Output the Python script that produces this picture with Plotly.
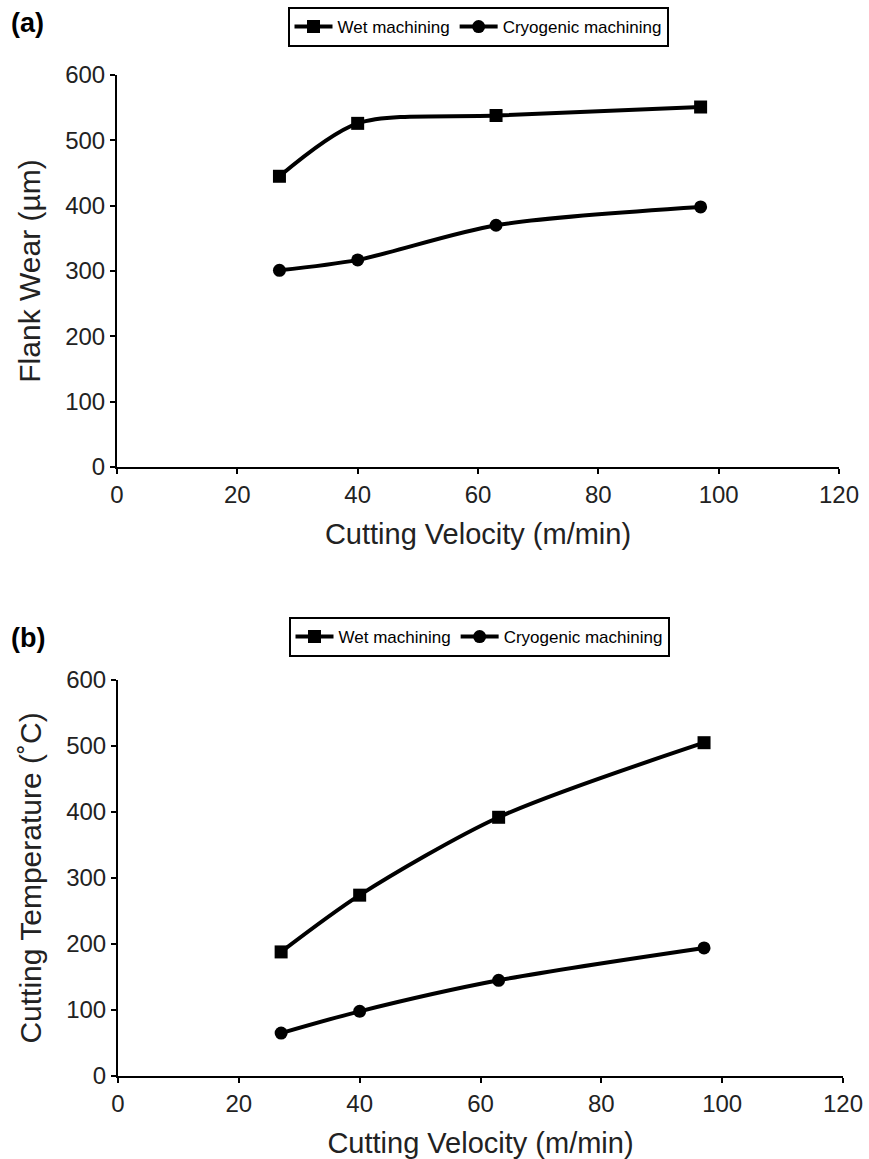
import plotly.graph_objects as go

velocity = [27, 40, 63, 97]
wear_wet = [445, 526, 538, 551]
wear_cryo = [301, 317, 370, 398]
temp_wet = [188, 274, 392, 505]
temp_cryo = [65, 98, 145, 194]

W, H = 869, 1159
ARIAL = "Liberation Sans, Arial, sans-serif"

fig = go.Figure()

def add(x, y, name, symbol, xa, ya, legend):
    fig.add_trace(go.Scatter(
        x=x, y=y, name=name, mode="lines+markers",
        line=dict(color="black", width=4, shape="spline", smoothing=0.8),
        marker=dict(symbol=symbol, size=13, color="black"),
        xaxis=xa, yaxis=ya, legend=legend))

add(velocity, wear_wet, "Wet machining", "square", "x", "y", "legend")
add(velocity, wear_cryo, "Cryogenic machining", "circle", "x", "y", "legend")
add(velocity, temp_wet, "Wet machining", "square", "x2", "y2", "legend2")
add(velocity, temp_cryo, "Cryogenic machining", "circle", "x2", "y2", "legend2")

def px_x(p):
    return p / W

def px_y(p):
    return 1 - p / H

xcommon = dict(range=[0, 120], tickvals=[0, 20, 40, 60, 80, 100, 120], showgrid=False,
               zeroline=False, showline=True, linecolor="black", linewidth=2,
               ticks="outside", ticklen=5, tickwidth=1.5, tickcolor="black",
               automargin=False,
               tickfont=dict(family=ARIAL, size=24, color="#222"),
               title=dict(text="Cutting Velocity (m/min)", standoff=17,
                          font=dict(family=ARIAL, size=29, color="#222")))
ycommon = dict(range=[0, 600], tickvals=[0, 100, 200, 300, 400, 500, 600], showgrid=False,
               zeroline=False, showline=True, linecolor="black", linewidth=2,
               ticks="outside", ticklen=5, tickwidth=1.5, tickcolor="black",
               automargin=False,
               tickfont=dict(family=ARIAL, size=24, color="#222"))

legend_common = dict(orientation="h", xanchor="center", yanchor="top",
                     bordercolor="black", borderwidth=2, bgcolor="white",
                     font=dict(family=ARIAL, size=17, color="black"),
                     itemwidth=38, tracegroupgap=0)

fig.update_layout(
    width=W, height=H, margin=dict(l=0, r=0, t=0, b=0, autoexpand=False),
    paper_bgcolor="white", plot_bgcolor="white",
    xaxis=dict(xcommon, domain=[px_x(117), px_x(839)], anchor="y"),
    yaxis=dict(ycommon, domain=[px_y(467), px_y(75)], anchor="x",
               title=dict(text="Flank Wear (µm)", standoff=16,
                          font=dict(family=ARIAL, size=30, color="#222"))),
    xaxis2=dict(xcommon, domain=[px_x(118), px_x(843)], anchor="y2"),
    yaxis2=dict(ycommon, domain=[px_y(1076), px_y(680)], anchor="x2",
                title=dict(text="Cutting Temperature (˚C)", standoff=16,
                           font=dict(family=ARIAL, size=30, color="#222"))),
    legend=dict(legend_common, x=px_x(478), y=px_y(7)),
    legend2=dict(legend_common, x=px_x(479), y=px_y(617)),
    annotations=[
        dict(text="<b>(a)</b>", x=px_x(9), y=px_y(23), xref="paper", yref="paper",
             xanchor="left", yanchor="middle", showarrow=False,
             font=dict(family=ARIAL, size=27, color="black")),
        dict(text="<b>(b)</b>", x=px_x(9), y=px_y(638), xref="paper", yref="paper",
             xanchor="left", yanchor="middle", showarrow=False,
             font=dict(family=ARIAL, size=27, color="black")),
    ],
    showlegend=True,
)

fig.write_html("out.html")
